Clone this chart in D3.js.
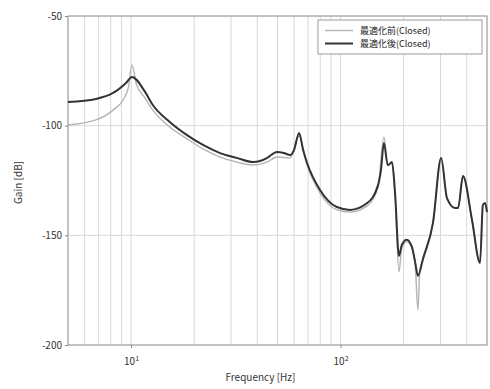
<!DOCTYPE html>
<meta charset="utf-8">
<head>
<style>
body { margin: 0; background: #fff; }
svg text { font-family: "Noto Sans CJK JP", "DejaVu Sans", sans-serif; fill: #333; }
.grid line { stroke: #d8d8d8; stroke-width: 1; }
.axis path { display: none; }
.axis line { stroke: #888; }
.axis text { font-size: 10px; }
</style>
<script src="https://d3js.org/d3.v7.min.js"></script>
</head>
<body>
<svg id="plot" width="490" height="389"></svg>
<script>

// frequency (Hz), gain (dB)
var freqAfter = [5, 6.8, 8.2, 9.46, 10.1, 11.66, 12.7, 15.3, 18.5, 22.05, 26.6, 32, 38.2, 41.3, 44.6, 49.7, 53.7, 57.4, 60, 63.4, 66.2, 69.2, 79.8, 96, 111, 134, 151, 156, 161, 168, 176, 182, 190, 196, 207, 219, 227, 234, 248, 276, 302, 322, 352, 364, 384, 424, 463, 478, 489, 500];
var gainAfter = [-89.2, -87.8, -85.1, -80.5, -77.8, -84.6, -90.6, -98.3, -104.3, -108.8, -112.5, -114.7, -116.6, -116.1, -114.7, -112, -112.5, -113.4, -111, -103.3, -111, -117, -129.3, -137.1, -138.4, -135.3, -127, -120, -107.9, -118, -116.6, -130.7, -159.4, -154.4, -152, -155.3, -162.2, -168.5, -160.3, -144.4, -114.7, -133, -137.5, -137.5, -123, -143, -162.6, -136.2, -135.3, -139.4];

var freqBefore = [5, 6.8, 8.2, 9.15, 9.7, 10.1, 10.6, 11.66, 12.7, 15.3, 18.5, 22.05, 26.6, 32, 38.2, 44.6, 49.7, 57.4, 63.4, 69.2, 79.8, 96, 111, 134, 151, 161, 168, 176, 182, 190, 196, 207, 219, 227, 234, 239, 248, 276, 302, 322, 352, 364, 384, 424, 463, 478, 489, 500];
var gainBefore = [-99.7, -97.4, -92.9, -88.3, -82.8, -72.3, -81, -87.4, -92.9, -100.6, -106, -110.6, -114.3, -116.6, -117.9, -116.6, -114.3, -114.7, -104.7, -118, -130.7, -138.4, -139.4, -136.6, -128, -105.2, -118, -117, -131.6, -166.7, -155.8, -153, -155.8, -163, -184, -165.8, -161, -144.4, -114.7, -133, -137.5, -137.5, -123, -143, -162.6, -136.2, -135.3, -139.4];

var yTicks = [-50, -100, -150, -200];
var xMajor = [10, 100];
var xMinor = [5, 6, 7, 8, 9, 10, 20, 30, 40, 50, 60, 70, 80, 90, 100, 200, 300, 400, 500];
var legendNames = ["最適化前(Closed)", "最適化後(Closed)"];

var svg = d3.select("svg"),
    margin = {top: 16, right: 3, bottom: 44, left: 68},
    width = svg.attr("width") - margin.left - margin.right,
    height = svg.attr("height") - margin.top - margin.bottom;

var x = d3.scaleLog().domain([5, 500]).range([0, width]);
var y = d3.scaleLinear().domain([-200, -50]).range([height, 0]);

var g = svg.append("g")
    .attr("transform", "translate(" + margin.left + "," + margin.top + ")");

// grid
var grid = g.append("g").attr("class", "grid");
grid.selectAll(".vx").data(xMinor).enter().append("line")
    .attr("x1", function(d){ return x(d); })
    .attr("x2", function(d){ return x(d); })
    .attr("y1", 0).attr("y2", height);
grid.selectAll(".hy").data(yTicks).enter().append("line")
    .attr("x1", 0).attr("x2", width)
    .attr("y1", function(d){ return y(d); })
    .attr("y2", function(d){ return y(d); });

// frame
g.append("rect")
    .attr("width", width).attr("height", height)
    .attr("fill", "none").attr("stroke", "#999").attr("stroke-width", 1);

// axes
g.append("g")
    .attr("class", "axis axis--y")
    .call(d3.axisLeft(y).tickValues(yTicks).tickSize(3).tickFormat(function(d){ return d; }));

var xAxis = g.append("g")
    .attr("class", "axis axis--x")
    .attr("transform", "translate(0," + height + ")")
    .call(d3.axisBottom(x).tickValues(xMajor).tickSize(3).tickFormat(""));

xAxis.selectAll(".tick").each(function(d){
  var t = d3.select(this).append("text")
      .attr("y", 16).attr("dy", "0.35em")
      .attr("text-anchor", "middle");
  t.append("tspan").text("10");
  t.append("tspan").attr("dy", "-0.5em").attr("font-size", "7px")
      .text(Math.round(Math.log10(d)));
});

// titles
svg.append("text")
    .attr("x", margin.left + width / 2 - 17).attr("y", 381)
    .attr("text-anchor", "middle").attr("font-size", "10px")
    .text("Frequency [Hz]");

svg.append("text")
    .attr("transform", "translate(22," + (margin.top + height / 2 + 2) + ") rotate(-90)")
    .attr("text-anchor", "middle").attr("font-size", "10px")
    .text("Gain [dB]");

// curves
var line = d3.line()
    .curve(d3.curveMonotoneX)
    .x(function(d){ return x(d[0]); })
    .y(function(d){ return y(d[1]); });

var plotArea = g.append("g");

plotArea.append("path")
    .datum(d3.zip(freqBefore, gainBefore))
    .attr("fill", "none").attr("stroke", "#b4b4b4").attr("stroke-width", 1.4)
    .attr("stroke-linejoin", "round")
    .attr("d", line);

plotArea.append("path")
    .datum(d3.zip(freqAfter, gainAfter))
    .attr("fill", "none").attr("stroke", "#333").attr("stroke-width", 2)
    .attr("stroke-linejoin", "round")
    .attr("d", line);

// legend
var lg = svg.append("g").attr("transform", "translate(318,20)");
lg.append("rect")
    .attr("width", 164).attr("height", 34)
    .attr("fill", "#fff").attr("stroke", "#999");

var legendColors = ["#b4b4b4", "#333"];
var legendWidths = [1.4, 2];
legendNames.forEach(function(name, i){
  var yy = 10.5 + i * 13;
  lg.append("line")
      .attr("x1", 7).attr("x2", 35)
      .attr("y1", yy).attr("y2", yy)
      .attr("stroke", legendColors[i]).attr("stroke-width", legendWidths[i]);
  lg.append("text")
      .attr("x", 42).attr("y", yy).attr("dy", "0.35em")
      .attr("font-size", "9px")
      .style("fill", "#222")
      .text(name);
});

</script>
</body>
